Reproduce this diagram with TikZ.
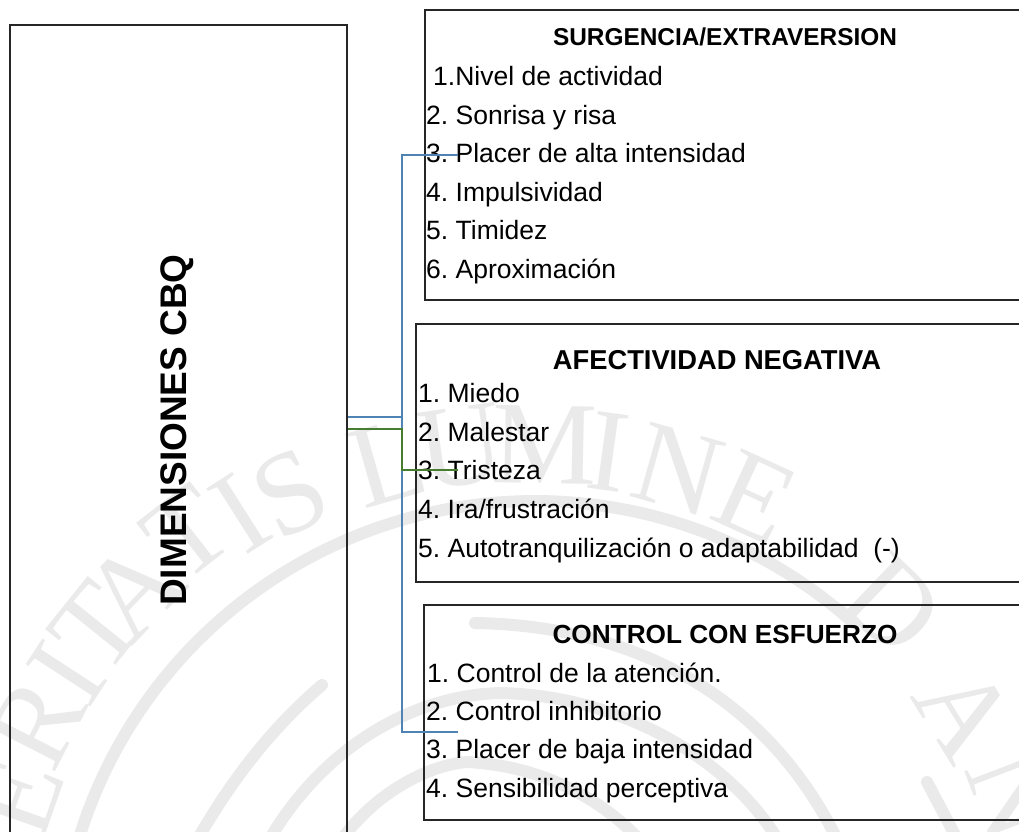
\documentclass[tikz,border=0pt]{standalone}
\usepackage{fontspec}
\setmainfont{Liberation Sans}
\newfontfamily\sealfont{Liberation Serif}
\definecolor{wm}{HTML}{EAEAEA}
\definecolor{linkblue}{HTML}{4F83B3}
\definecolor{linkgreen}{HTML}{477D2E}
\definecolor{boxline}{HTML}{262626}
\tikzset{
  frame/.style={draw=boxline,line width=2pt,fill=none,inner sep=0pt,anchor=north west},
  item/.style={anchor=base west,inner sep=0pt,font=\fontsize{26.5}{28}\selectfont\frenchspacing,text=black},
  head/.style={anchor=base,inner sep=0pt,text=black},
  arcwm/.style={draw=wm,line width=12pt,line cap=round,fill=none},
  sealletter/.style={inner sep=0pt,text=wm,font=\sealfont\fontsize{118}{122}\selectfont},
  blueline/.style={draw=linkblue,line width=2.2pt},
  greenline/.style={draw=linkgreen,line width=2.2pt}
}
\begin{document}
\begin{tikzpicture}[x=1pt,y=-1pt]
\useasboundingbox (0,0) rectangle (1019,831);
\clip (0,0) rectangle (1019,831);
% watermark seal
\foreach \ch/\px/\py [count=\i] in {E/18/797,R/37/723,I/67/673,T/97/627,A/133/590,T/187/533,I/240/513,S/290/493,L/388/462,U/460/447,M/545/445,I/608/452,N/678/470,E/755/497,D/893/605,A/965/712,N/1015/795}{
  \pgfmathsetmacro{\rot}{atan2(535-\px,978-\py)}
  \node[sealletter,rotate=\rot] (seal\i) at (\px,\py) {\ch};
}
\draw[arcwm] plot[smooth,domain=48:163,samples=50] ({535+477*cos(\x)},{978-477*sin(\x)});
\draw[arcwm] (475,623) .. controls (600,625) and (750,670) .. (835,835);
\draw[arcwm] (322,685) .. controls (275,725) and (235,775) .. (200,835);
\draw[arcwm] (272,835) .. controls (330,740) and (420,695) .. (500,693) .. controls (610,695) and (720,750) .. (775,835);
\draw[arcwm] (345,835) .. controls (380,790) and (430,765) .. (467,762) .. controls (530,765) and (590,790) .. (635,835);
\draw[arcwm] (927,782) -- (955,835);
% boxes
\node[frame,minimum width=337pt,minimum height=840pt] (main) at (9,24) {};
\node[frame,minimum width=620pt,minimum height=290pt] (sur) at (424,9) {};
\node[frame,minimum width=630pt,minimum height=258pt] (afe) at (415,323) {};
\node[frame,minimum width=620pt,minimum height=215pt] (con) at (423,604) {};
% main label
\node[rotate=90,inner sep=0pt,font=\fontsize{37}{39}\bfseries\selectfont] (title) at (177,430) {DIMENSIONES CBQ};
% box 1
\node[head,font=\fontsize{24.4}{26}\bfseries\selectfont] (h1) at (725,45) {SURGENCIA/EXTRAVERSION};
\node[item] (a1) at (433,85) {1.Nivel de actividad};
\node[item] (a2) at (426,124) {2. Sonrisa y risa};
\node[item] (a3) at (426,162) {3. Placer de alta intensidad};
\node[item] (a4) at (426,201) {4. Impulsividad};
\node[item] (a5) at (426,239) {5. Timidez};
\node[item] (a6) at (426,278) {6. Aproximación};
% box 2
\node[head,font=\fontsize{27.3}{29}\bfseries\selectfont] (h2) at (717,369) {AFECTIVIDAD NEGATIVA};
\node[item] (b1) at (418,402) {1. Miedo};
\node[item] (b2) at (418,441) {2. Malestar};
\node[item] (b3) at (418,479) {3. Tristeza};
\node[item] (b4) at (418,518) {4. Ira/frustración};
\node[item] (b5) at (418,557) {5. Autotranquilización o adaptabilidad\ \ (-)};
% box 3
\node[head,font=\fontsize{26.2}{28}\bfseries\selectfont] (h3) at (725,643) {CONTROL CON ESFUERZO};
\node[item] (c1) at (427,682) {1. Control de la atención.};
\node[item] (c2) at (426,720) {2. Control inhibitorio};
\node[item] (c3) at (426,758) {3. Placer de baja intensidad};
\node[item] (c4) at (426,797) {4. Sensibilidad perceptiva};
% connectors
\coordinate (bs) at (main.north east |- 0,417);
\coordinate (gs) at (main.north east |- 0,429);
\coordinate (bt) at (458,155);
\coordinate (gt) at (458,470);
\coordinate (bb) at (458,732);
\draw[blueline] (bs) -| (402,155) -- (bt);
\draw[blueline] (bs) -| (402,732) -- (bb);
\draw[greenline] (gs) -| (402,470) -- (gt);
\end{tikzpicture}
\end{document}
